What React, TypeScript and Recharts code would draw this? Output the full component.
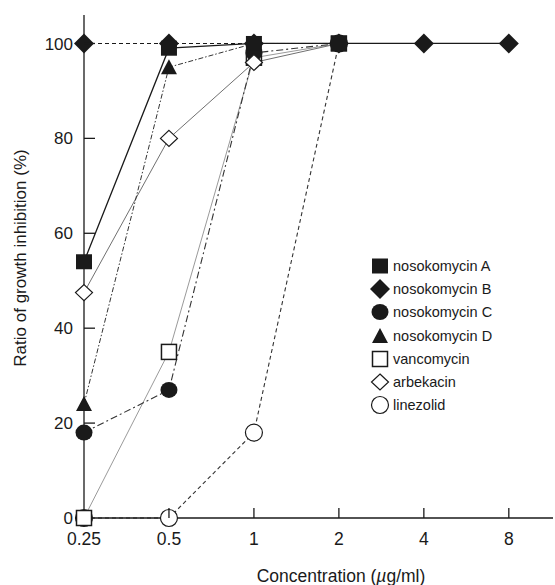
import React from 'react';
import { LineChart, Line, XAxis, YAxis, Legend, Label } from 'recharts';

const concentrations = [0.25, 0.5, 1, 2, 4, 8];
const xTickLabels = ['0.25', '0.5', '1', '2', '4', '8'];
const yTicks = [0, 20, 40, 60, 80, 100];

const nosokomycinA = [54, 99, 100, 100, 100, 100];
const nosokomycinB = [100, 100, 100, 100, 100, 100];
const nosokomycinC = [18, 27, 98, 100, null, null];
const nosokomycinD = [24, 95, 100, 100, null, null];
const vancomycin = [0, 35, 97, 100, null, null];
const arbekacin = [47.5, 80, 96, 100, null, null];
const linezolid = [0, 0, 18, 100, null, null];

const FONT = '"Liberation Sans", Arial, Helvetica, sans-serif';
const INK = '#1a1a1a';

type Shape = 'fSquare' | 'fDiamond' | 'fCircle' | 'fTriangle' | 'oSquare' | 'oDiamond' | 'oCircle';

interface SeriesDef {
  key: string;
  name: string;
  values: (number | null)[];
  shape: Shape;
  stroke: string;
  dash?: string;
  width: number;
  dotCount: number;
}

const legendSeries: SeriesDef[] = [
  { key: 'A', name: 'nosokomycin A', values: nosokomycinA, shape: 'fSquare', stroke: INK, width: 1.3, dotCount: 4 },
  { key: 'B', name: 'nosokomycin B', values: nosokomycinB, shape: 'fDiamond', stroke: INK, dash: '4 3', width: 1.1, dotCount: 6 },
  { key: 'C', name: 'nosokomycin C', values: nosokomycinC, shape: 'fCircle', stroke: '#333', dash: '7 3 2 3', width: 1.1, dotCount: 6 },
  { key: 'D', name: 'nosokomycin D', values: nosokomycinD, shape: 'fTriangle', stroke: '#333', dash: '5 2 1.5 2', width: 1, dotCount: 6 },
  { key: 'V', name: 'vancomycin', values: vancomycin, shape: 'oSquare', stroke: '#9a9a9a', width: 1, dotCount: 6 },
  { key: 'R', name: 'arbekacin', values: arbekacin, shape: 'oDiamond', stroke: '#707070', width: 1, dotCount: 6 },
  { key: 'L', name: 'linezolid', values: linezolid, shape: 'oCircle', stroke: '#333', dash: '4 3', width: 1.1, dotCount: 6 },
];

// draw order so the overlapping markers stack like the original
const drawOrder = ['L', 'V', 'B', 'C', 'R', 'D', 'A'];

const rows = concentrations.map((c, i) => {
  const row: { [k: string]: number | null } = { lx: Math.log2(c) };
  legendSeries.forEach((s) => {
    row[s.key] = s.values[i];
  });
  return row;
});

const Marker = ({ shape, cx, cy }: { shape: Shape; cx: number; cy: number }) => {
  switch (shape) {
    case 'fSquare':
      return <rect x={cx - 8} y={cy - 7.5} width={16} height={15} fill={INK} />;
    case 'fDiamond':
      return <polygon points={`${cx},${cy - 10} ${cx + 10},${cy} ${cx},${cy + 10} ${cx - 10},${cy}`} fill={INK} />;
    case 'fCircle':
      return <ellipse cx={cx} cy={cy} rx={8.5} ry={8} fill={INK} />;
    case 'fTriangle':
      return <polygon points={`${cx},${cy - 8} ${cx + 8},${cy + 7} ${cx - 8},${cy + 7}`} fill={INK} />;
    case 'oSquare':
      return <rect x={cx - 7.5} y={cy - 7.5} width={15} height={15} fill="#fff" stroke={INK} strokeWidth={1.5} />;
    case 'oDiamond':
      return (
        <polygon
          points={`${cx},${cy - 8} ${cx + 8.5},${cy} ${cx},${cy + 8} ${cx - 8.5},${cy}`}
          fill="#fff"
          stroke={INK}
          strokeWidth={1.2}
        />
      );
    case 'oCircle':
    default:
      return <circle cx={cx} cy={cy} r={8.5} fill="#fff" stroke={INK} strokeWidth={1.2} />;
  }
};

const YTick = (props: any) => {
  const { x, y, payload } = props;
  return (
    <g>
      {payload.value !== 0 && <line x1={x + 11} x2={x + 22} y1={y} y2={y} stroke={INK} strokeWidth={1.3} />}
      <text x={x} y={y} dy="0.36em" textAnchor="end" fontSize={17} fill={INK} fontFamily={FONT}>
        {payload.value}
      </text>
    </g>
  );
};

const XTick = (props: any) => {
  const { x, y, payload, index } = props;
  return (
    <g>
      {payload.value !== -2 && <line x1={x} x2={x} y1={y - 15} y2={y - 25} stroke={INK} strokeWidth={1.3} />}
      <text x={x} y={y} dy="0.71em" textAnchor="middle" fontSize={17.5} fill={INK} fontFamily={FONT}>
        {xTickLabels[index]}
      </text>
    </g>
  );
};

const renderLegend = () => (
  <div style={{ fontFamily: FONT, fontSize: 14.5, color: INK }}>
    {legendSeries.map((s) => (
      <div key={s.key} style={{ display: 'flex', alignItems: 'center', height: 23.3 }}>
        <svg width={20} height={20} style={{ marginRight: 3 }}>
          <Marker shape={s.shape} cx={10} cy={10} />
        </svg>
        <span>{s.name}</span>
      </div>
    ))}
  </div>
);

export default function App() {
  return (
    <div style={{ position: 'absolute', left: 0, top: 0, width: 555, height: 585, background: '#fff' }}>
      <LineChart width={555} height={585} data={rows} margin={{ top: 15, right: 2, bottom: 37, left: 24 }}>
        <XAxis
          type="number"
          dataKey="lx"
          domain={[-2, 3.52]}
          ticks={[-2, -1, 0, 1, 2, 3]}
          tickSize={0}
          tickMargin={15}
          tick={<XTick />}
          axisLine={{ stroke: INK, strokeWidth: 1.3 }}
          height={30}
        >
          <Label
            content={() => (
              <text x={341} y={582} textAnchor="middle" fontSize={17.5} fill={INK} fontFamily={FONT}>
                <tspan>Concentration (</tspan>
                <tspan fontStyle="italic">µ</tspan>
                <tspan>g/ml)</tspan>
              </text>
            )}
          />
        </XAxis>
        <YAxis
          type="number"
          domain={[0, 106]}
          ticks={yTicks}
          width={60}
          tickSize={0}
          tickMargin={11}
          tick={<YTick />}
          axisLine={{ stroke: INK, strokeWidth: 1.3 }}
        >
          <Label
            content={() => (
              <text
                x={26}
                y={258}
                transform="rotate(-90 26 258)"
                textAnchor="middle"
                fontSize={17}
                fill={INK}
                fontFamily={FONT}
              >
                Ratio of growth inhibition (%)
              </text>
            )}
          />
        </YAxis>
        <Legend
          content={renderLegend}
          layout="vertical"
          align="center"
          verticalAlign="middle"
          wrapperStyle={{ left: 370, top: 254, right: 'auto', bottom: 'auto', width: 180 }}
        />
        {drawOrder.map((k) => {
          const s = legendSeries.find((d) => d.key === k)!;
          return (
            <Line
              key={s.key}
              dataKey={s.key}
              name={s.name}
              type="linear"
              stroke={s.stroke}
              strokeWidth={s.width}
              strokeDasharray={s.dash}
              isAnimationActive={false}
              activeDot={false}
              dot={(p: any) =>
                p.cx == null || p.cy == null || p.value == null || p.index >= s.dotCount ? (
                  <g key={`${s.key}-${p.index}`} />
                ) : (
                  <Marker key={`${s.key}-${p.index}`} shape={s.shape} cx={p.cx} cy={p.cy} />
                )
              }
            />
          );
        })}
      </LineChart>
    </div>
  );
}
